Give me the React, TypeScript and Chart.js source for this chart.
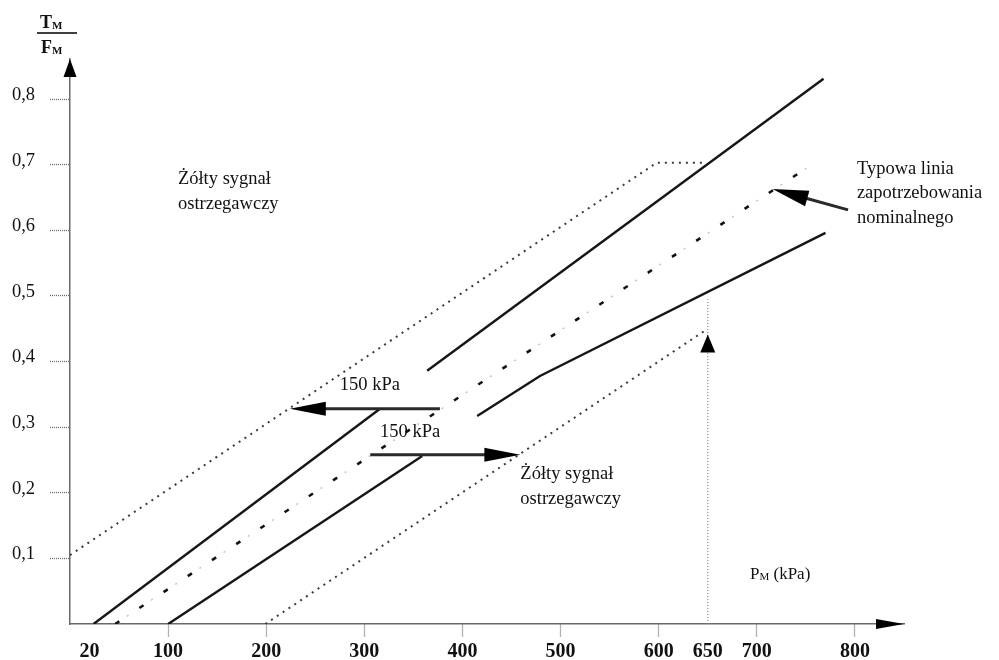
import React, { useEffect, useRef } from 'react';
import { Chart, registerables } from 'chart.js';

Chart.register(...registerables);

// ---- axis ticks ----
const xTickValues = [20, 100, 200, 300, 400, 500, 600, 650, 700, 800];
const xTicksWithoutMark = [20, 650];
const yTickValues = [0.1, 0.2, 0.3, 0.4, 0.5, 0.6, 0.7, 0.8];
const yTickLabels = ['0,1', '0,2', '0,3', '0,4', '0,5', '0,6', '0,7', '0,8'];
const xMax = 850;
const yMax = 0.861;

// ---- series (P_M in kPa, T_M/F_M) ----
const upperSolidLow = [{ x: 24, y: 0 }, { x: 316, y: 0.328 }];
const upperSolidHigh = [{ x: 364, y: 0.386 }, { x: 768, y: 0.831 }];
const nominalLine = [{ x: 46, y: 0 }, { x: 756, y: 0.7 }];
const lowerSolidLow = [{ x: 100, y: 0 }, { x: 359, y: 0.256 }];
const lowerSolidHigh = [{ x: 415, y: 0.317 }, { x: 479, y: 0.378 }, { x: 770, y: 0.596 }];
const upperWarning = [{ x: 0, y: 0.105 }, { x: 598, y: 0.703 }, { x: 645, y: 0.703 }];
const lowerWarning = [{ x: 199, y: 0 }, { x: 647, y: 0.447 }];
const marker650 = [{ x: 650, y: 0 }, { x: 650, y: 0.495 }];

// ---- arrows (from -> to, data units) ----
const shiftLeftArrow = [{ x: 377, y: 0.328 }, { x: 224, y: 0.328 }];
const shiftRightArrow = [{ x: 306, y: 0.258 }, { x: 459, y: 0.258 }];
const nominalArrow = [{ x: 793, y: 0.631 }, { x: 716, y: 0.663 }];
const marker650Arrow = [{ x: 650, y: 0.3 }, { x: 650, y: 0.441 }];

// ---- annotation texts (anchor in data units, first line baseline) ----
const labelWarningTop = { lines: ['Żółty sygnał', 'ostrzegawczy'], x: 110, y: 0.671 };
const labelWarningBottom = { lines: ['Żółty sygnał', 'ostrzegawczy'], x: 459, y: 0.221 };
const labelNominal = { lines: ['Typowa linia', 'zapotrzebowania', 'nominalnego'], x: 802, y: 0.686 };
const labelShiftUpper = { lines: ['150 kPa'], x: 275, y: 0.357 };
const labelShiftLower = { lines: ['150 kPa'], x: 316, y: 0.285 };

const SERIF = '"Liberation Serif", "DejaVu Serif", serif';

const overlayPlugin = {
  id: 'overlay',
  afterDatasetsDraw(chart: any) {
    const { ctx, chartArea, scales } = chart;
    const xs = scales.x;
    const ys = scales.y;
    const px = (v: number) => xs.getPixelForValue(v);
    const py = (v: number) => ys.getPixelForValue(v);

    ctx.save();

    // axis arrowheads
    ctx.fillStyle = '#000';
    ctx.beginPath();
    ctx.moveTo(chartArea.right, chartArea.bottom);
    ctx.lineTo(chartArea.right - 28, chartArea.bottom - 5);
    ctx.lineTo(chartArea.right - 28, chartArea.bottom + 5);
    ctx.closePath();
    ctx.fill();
    ctx.beginPath();
    ctx.moveTo(chartArea.left, chartArea.top);
    ctx.lineTo(chartArea.left - 6.5, chartArea.top + 18);
    ctx.lineTo(chartArea.left + 6.5, chartArea.top + 18);
    ctx.closePath();
    ctx.fill();

    const drawArrow = (pts: any[], headLen: number, halfW: number, shaft: boolean) => {
      const x1 = px(pts[0].x), y1 = py(pts[0].y);
      const x2 = px(pts[1].x), y2 = py(pts[1].y);
      const dx = x2 - x1, dy = y2 - y1;
      const len = Math.hypot(dx, dy);
      const ux = dx / len, uy = dy / len;
      const bx = x2 - ux * headLen, by = y2 - uy * headLen;
      if (shaft) {
        ctx.strokeStyle = '#2a2a2a';
        ctx.lineWidth = 3;
        ctx.setLineDash([]);
        ctx.beginPath();
        ctx.moveTo(x1, y1);
        ctx.lineTo(bx + ux * 4, by + uy * 4);
        ctx.stroke();
      }
      ctx.fillStyle = '#000';
      ctx.beginPath();
      ctx.moveTo(x2, y2);
      ctx.lineTo(bx - uy * halfW, by + ux * halfW);
      ctx.lineTo(bx + uy * halfW, by - ux * halfW);
      ctx.closePath();
      ctx.fill();
    };
    drawArrow(shiftLeftArrow, 36, 7, true);
    drawArrow(shiftRightArrow, 36, 7, true);
    drawArrow(nominalArrow, 36, 8, true);
    drawArrow(marker650Arrow, 18, 7.5, false);

    // texts
    ctx.fillStyle = '#111';
    ctx.textAlign = 'left';
    ctx.textBaseline = 'alphabetic';
    const drawLabel = (lab: any, size: number, lh: number) => {
      ctx.font = `${size}px ${SERIF}`;
      lab.lines.forEach((t: string, i: number) => {
        ctx.fillText(t, px(lab.x), py(lab.y) + i * lh);
      });
    };
    drawLabel(labelWarningTop, 18.5, 25);
    drawLabel(labelWarningBottom, 18.5, 25);
    drawLabel(labelNominal, 18.5, 24.5);
    drawLabel(labelShiftUpper, 18.5, 0);
    drawLabel(labelShiftLower, 18.5, 0);

    // x axis title P_M (kPa)
    ctx.font = `17px ${SERIF}`;
    let tx = 750;
    const tb = 579;
    ctx.fillText('P', tx, tb);
    tx += ctx.measureText('P').width;
    ctx.font = `11px ${SERIF}`;
    ctx.fillText('M', tx, tb + 1);
    tx += ctx.measureText('M').width;
    ctx.font = `17px ${SERIF}`;
    ctx.fillText(' (kPa)', tx, tb);

    // y axis title T_M / F_M
    const drawSub = (main: string, sub: string, x: number, y: number) => {
      ctx.font = `bold 18px ${SERIF}`;
      ctx.fillText(main, x, y);
      const w = ctx.measureText(main).width;
      ctx.font = `bold 11px ${SERIF}`;
      ctx.fillText(sub, x + w, y + 1);
    };
    drawSub('T', 'M', 40, 28);
    drawSub('F', 'M', 41, 53);
    ctx.strokeStyle = '#000';
    ctx.lineWidth = 1.5;
    ctx.setLineDash([]);
    ctx.beginPath();
    ctx.moveTo(37, 33);
    ctx.lineTo(77, 33);
    ctx.stroke();

    ctx.restore();
  },
};

const solid = (data: any[]) => ({
  data,
  borderColor: '#161616',
  borderWidth: 2.4,
  pointRadius: 0,
  tension: 0,
});
const dotted = (data: any[]) => ({
  data,
  borderColor: '#3a3a3a',
  borderWidth: 2,
  borderDash: [2, 5],
  pointRadius: 0,
  tension: 0,
});

export default function App() {
  const ref = useRef<HTMLCanvasElement | null>(null);
  useEffect(() => {
    if (!ref.current) return;
    const chart = new Chart(ref.current, {
      type: 'line',
      data: {
        datasets: [
          dotted(upperWarning),
          dotted(lowerWarning),
          {
            data: marker650,
            borderColor: '#8a8a8a',
            borderWidth: 1.2,
            borderDash: [1, 2],
            pointRadius: 0,
          },
          {
            data: nominalLine,
            borderColor: '#c4c4c4',
            borderWidth: 1.5,
            borderDash: [2, 27],
            borderDashOffset: -14,
            pointRadius: 0,
          },
          {
            data: nominalLine,
            borderColor: '#111',
            borderWidth: 2.6,
            borderDash: [5, 24],
            pointRadius: 0,
          },
          solid(upperSolidLow),
          solid(upperSolidHigh),
          solid(lowerSolidLow),
          solid(lowerSolidHigh),
        ] as any,
      },
      options: {
        animation: false,
        responsive: true,
        maintainAspectRatio: false,
        layout: { padding: { top: 59, right: 95, left: 0, bottom: 0 } },
        plugins: {
          legend: { display: false },
          tooltip: { enabled: false },
          title: { display: false },
        },
        scales: {
          x: {
            type: 'linear',
            min: 0,
            max: xMax,
            afterBuildTicks: (s: any) => {
              s.ticks = xTickValues.map((v) => ({ value: v }));
            },
            afterFit: (s: any) => {
              s.height = 36;
            },
            ticks: {
              autoSkip: false,
              maxRotation: 0,
              padding: 3,
              color: '#111',
              font: { family: SERIF, size: 20, weight: 'bold' },
              callback: (v: any) => String(v),
            },
            grid: {
              drawOnChartArea: false,
              drawTicks: true,
              tickLength: 13,
              tickWidth: 1.3,
              tickBorderDash: [1, 1],
              tickColor: (c: any) =>
                c.tick && xTicksWithoutMark.includes(c.tick.value) ? 'rgba(0,0,0,0)' : '#666',
            },
            border: { display: true, color: '#6a6a6a', width: 1.5, dash: [1, 1] },
          },
          y: {
            type: 'linear',
            min: 0,
            max: yMax,
            afterBuildTicks: (s: any) => {
              s.ticks = yTickValues.map((v) => ({ value: v }));
            },
            afterFit: (s: any) => {
              s.width = 70;
            },
            ticks: {
              autoSkip: false,
              padding: 15,
              labelOffset: -4,
              color: '#111',
              font: { family: SERIF, size: 18.5 },
              callback: (v: any) => {
                const i = yTickValues.findIndex((t) => Math.abs(t - v) < 1e-6);
                return i >= 0 ? yTickLabels[i] : '';
              },
            },
            grid: {
              drawOnChartArea: false,
              drawTicks: true,
              tickLength: 20,
              tickWidth: 1.3,
              tickBorderDash: [1, 1],
              tickColor: '#666',
            },
            border: { display: true, color: '#6a6a6a', width: 1.5, dash: [1, 1] },
          },
        },
      } as any,
      plugins: [overlayPlugin],
    });
    return () => chart.destroy();
  }, []);

  return (
    <div style={{ position: 'absolute', left: 0, top: 0, width: 999, height: 660, background: '#fff' }}>
      <canvas ref={ref} />
    </div>
  );
}
